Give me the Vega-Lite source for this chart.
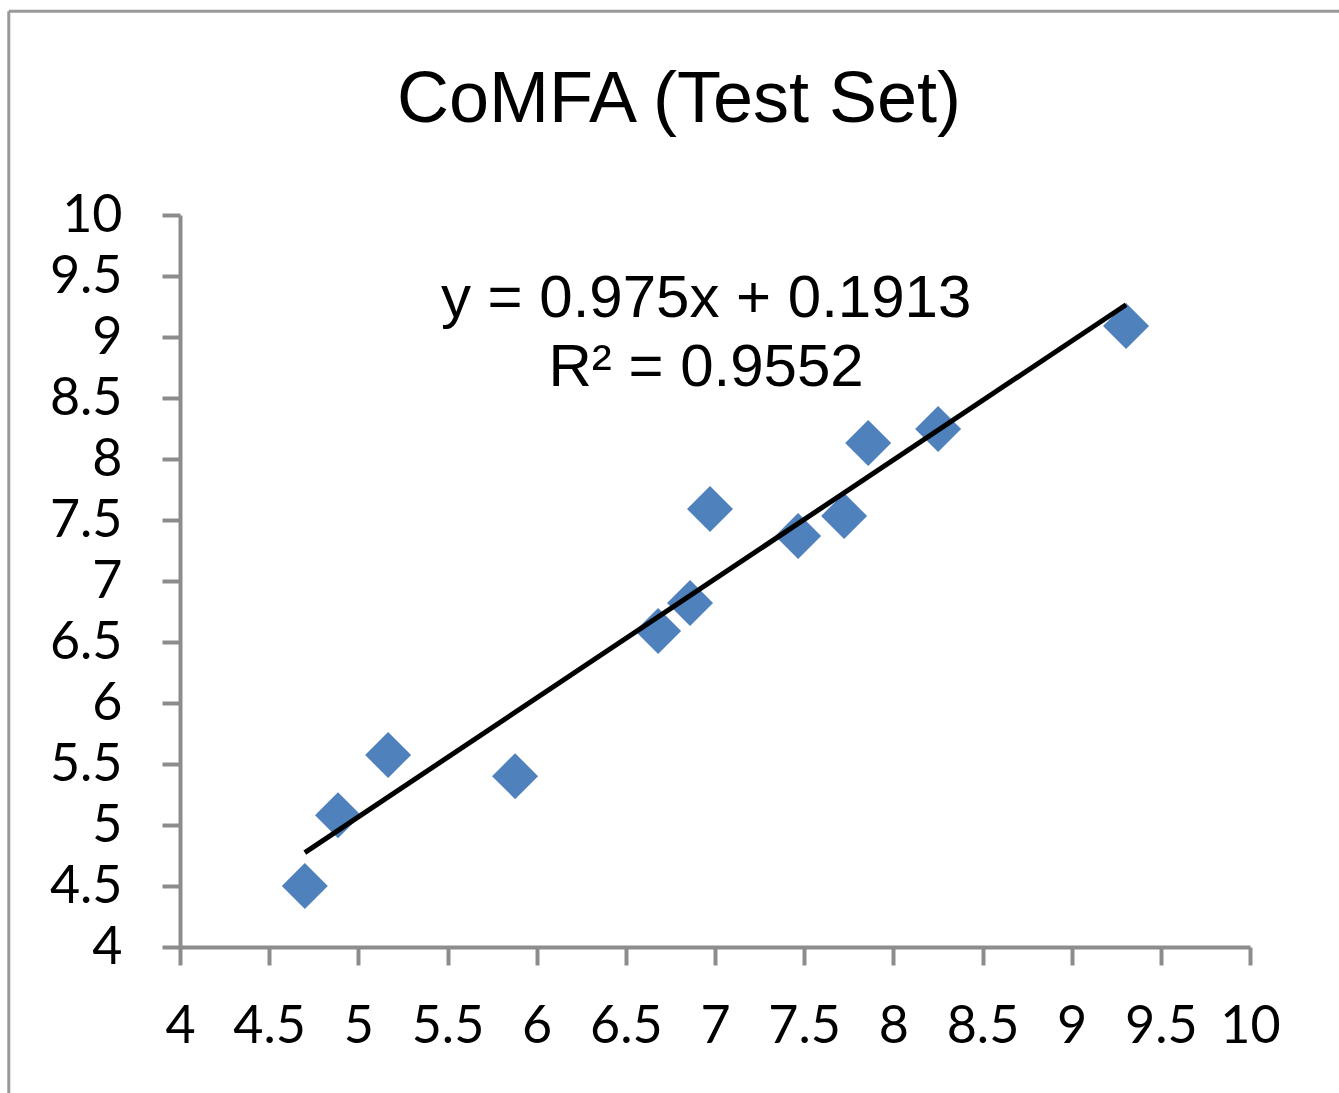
{
  "$schema": "https://vega.github.io/schema/vega-lite/v6.json",
  "autosize": "none",
  "width": 1070,
  "height": 732,
  "padding": {"left": 180, "top": 215, "right": 89, "bottom": 146},
  "background": "white",
  "title": {
    "text": "CoMFA (Test Set)",
    "font": "Liberation Sans",
    "fontSize": 72,
    "fontWeight": "normal",
    "color": "black",
    "anchor": "middle",
    "frame": "group",
    "baseline": "alphabetic",
    "offset": 0,
    "dy": 184,
    "dx": -36
  },
  "datasets": {
    "points": [
      {"x": 4.70, "y": 4.50},
      {"x": 4.886, "y": 5.08},
      {"x": 5.167, "y": 5.574},
      {"x": 5.879, "y": 5.40},
      {"x": 6.681, "y": 6.59},
      {"x": 6.860, "y": 6.82},
      {"x": 6.972, "y": 7.59},
      {"x": 7.466, "y": 7.369},
      {"x": 7.724, "y": 7.533},
      {"x": 7.859, "y": 8.131},
      {"x": 8.251, "y": 8.246},
      {"x": 9.305, "y": 9.09}
    ],
    "trend": [
      {"x": 4.70, "y": 4.774},
      {"x": 9.305, "y": 9.264}
    ]
  },
  "config": {
    "view": {"stroke": null},
    "axis": {
      "grid": false,
      "domainColor": "#8c8c8c",
      "domainWidth": 4,
      "tickColor": "#8c8c8c",
      "tickWidth": 4,
      "tickSize": 18,
      "labelFont": "Lato",
      "labelFontSize": 52,
      "labelColor": "black",
      "format": "~g",
      "title": null
    }
  },
  "layer": [
    {
      "data": {"name": "points"},
      "mark": {"type": "point", "shape": "diamond", "filled": true, "opacity": 1, "color": "#4F81BD", "size": 2116},
      "encoding": {
        "x": {
          "field": "x",
          "type": "quantitative",
          "scale": {"domain": [4, 10], "nice": false, "zero": false},
          "axis": {"values": [4, 4.5, 5, 5.5, 6, 6.5, 7, 7.5, 8, 8.5, 9, 9.5, 10], "format": "~g", "labelBaseline": "alphabetic", "labelPadding": 77, "labelFlush": false, "labelOverlap": false}
        },
        "y": {
          "field": "y",
          "type": "quantitative",
          "scale": {"domain": [4, 10], "nice": false, "zero": false},
          "axis": {"values": [4, 4.5, 5, 5.5, 6, 6.5, 7, 7.5, 8, 8.5, 9, 9.5, 10], "format": "~g", "labelPadding": 40, "labelFlush": false, "labelOverlap": false}
        }
      }
    },
    {
      "data": {"name": "trend"},
      "mark": {"type": "line", "color": "black", "strokeWidth": 5},
      "encoding": {
        "x": {"field": "x", "type": "quantitative"},
        "y": {"field": "y", "type": "quantitative"}
      }
    },
    {
      "data": {"values": [{}]},
      "mark": {"type": "text", "text": ["y = 0.975x + 0.1913", "R² = 0.9552"], "font": "Liberation Sans", "fontSize": 60, "lineHeight": 69, "align": "center", "baseline": "alphabetic", "color": "black"},
      "encoding": {
        "x": {"datum": 6.95},
        "y": {"datum": 9.16}
      }
    },
    {
      "data": {"values": [{}]},
      "mark": {"type": "rule", "color": "#999999", "strokeWidth": 3, "clip": false},
      "encoding": {
        "x": {"datum": 3.04},
        "y": {"datum": 11.67},
        "y2": {"datum": 2.7}
      }
    },
    {
      "data": {"values": [{}]},
      "mark": {"type": "rule", "color": "#999999", "strokeWidth": 3, "clip": false},
      "encoding": {
        "y": {"datum": 11.67},
        "x": {"datum": 3.04},
        "x2": {"datum": 10.6}
      }
    }
  ]
}
